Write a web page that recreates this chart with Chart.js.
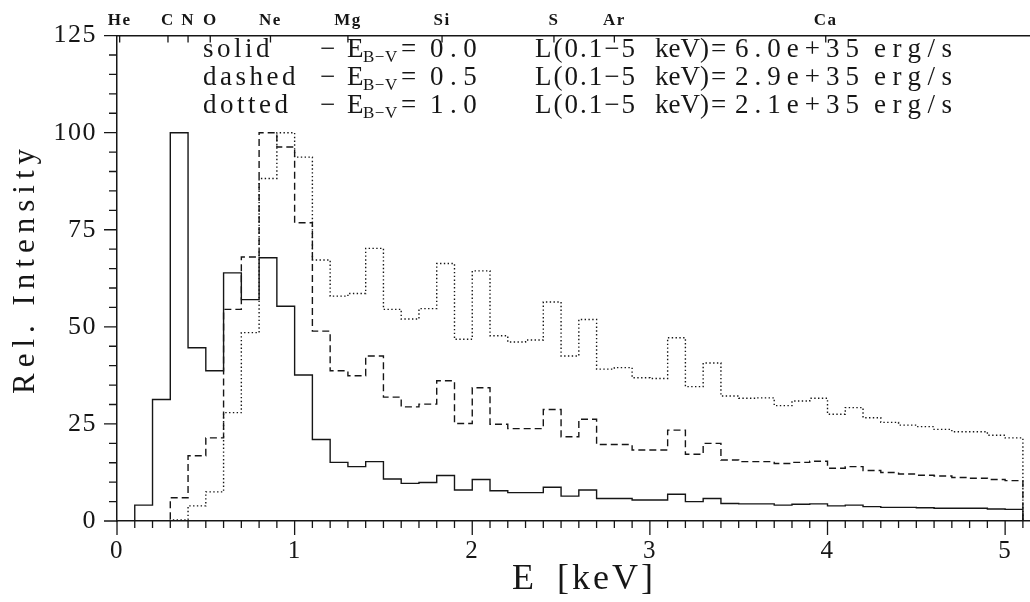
<!DOCTYPE html>
<html>
<head>
<meta charset="utf-8">
<title>Rel. Intensity vs E</title>
<script src="https://cdn.jsdelivr.net/npm/chart.js@4.4.1/dist/chart.umd.min.js"></script>
<style>
  html, body { margin: 0; padding: 0; background: #fff; }
  #wrap { position: relative; width: 1030px; height: 602px; }
</style>
</head>
<body>
<div id="wrap"><canvas id="spectrum"></canvas></div>
<script>
'use strict';

// ── Data ──────────────────────────────────────────────────────────────────────
// One value per 0.1 keV bin, first bin starts at 0.0 keV.

const FIRST_BIN_KEV = 0.0;
const BIN_WIDTH_KEV = 0.1;

const solid = [
  0, 4.1, 31.3, 100, 44.6, 38.7, 63.9, 57.0, 67.8, 55.3,
  37.6, 21.0, 15.1, 14.0, 15.3, 10.8, 9.7, 9.9, 11.7, 8.0,
  10.7, 7.8, 7.3, 7.3, 8.7, 6.4, 8.0, 5.8, 5.8, 5.4,
  5.4, 6.9, 5.0, 5.8, 4.5, 4.4, 4.4, 4.1, 4.3, 4.4,
  3.9, 4.1, 3.7, 3.5, 3.5, 3.4, 3.3, 3.3, 3.3, 3.1,
  3.0,
];

const dashed = [
  0, 0, 0, 6.0, 16.8, 21.4, 54.5, 68.0, 100, 96.3,
  76.8, 48.9, 38.7, 37.4, 42.5, 31.9, 29.4, 30.1, 36.1, 25.1,
  34.3, 24.9, 23.8, 23.8, 28.7, 21.7, 26.2, 19.7, 19.7, 18.3,
  18.3, 23.4, 17.2, 20.0, 15.7, 15.3, 15.3, 14.8, 15.1, 15.4,
  13.6, 14.0, 13.0, 12.5, 12.1, 11.8, 11.6, 11.2, 11.0, 10.7,
  10.4,
];

const dotted = [
  0, 0, 0, 0.3, 3.9, 7.5, 27.9, 48.5, 88.2, 100,
  93.7, 67.2, 57.9, 58.6, 70.2, 54.5, 52.0, 54.7, 66.3, 46.8,
  64.4, 47.7, 46.1, 46.6, 56.4, 42.5, 51.9, 39.1, 39.5, 36.9,
  36.7, 47.2, 34.6, 40.7, 32.2, 31.6, 31.7, 29.7, 30.9, 31.6,
  27.5, 29.2, 26.6, 25.4, 24.7, 24.3, 23.6, 23.0, 23.0, 22.1,
  21.4,
];

const xTicks = [0, 1, 2, 3, 4, 5];
const yTicks = [0, 25, 50, 75, 100, 125];

const elementNames = ['He', 'C', 'N', 'O', 'Ne', 'Mg', 'Si', 'S', 'Ar', 'Ca'];
const elementKev   = [0.015, 0.287, 0.40, 0.525, 0.864, 1.30, 1.83, 2.46, 2.80, 3.99];

const legendRows = [
  { style: 'solid',  ebv: '0.0', lum: '6.0e+35' },
  { style: 'dashed', ebv: '0.5', lum: '2.9e+35' },
  { style: 'dotted', ebv: '1.0', lum: '2.1e+35' },
];

// ── Look ──────────────────────────────────────────────────────────────────────

const INK = '#161616';
const SERIF = '"Liberation Serif", "DejaVu Serif", serif';
const X_MAX = 5.14;

function histogramPoints(values) {
  const pts = values.map((v, i) => ({ x: +(FIRST_BIN_KEV + i * BIN_WIDTH_KEV).toFixed(2), y: v }));
  pts.push({ x: +(FIRST_BIN_KEV + values.length * BIN_WIDTH_KEV).toFixed(2), y: 0 });
  return pts;
}

function histDataset(values, dash) {
  return {
    data: histogramPoints(values),
    borderColor: INK,
    borderWidth: 1.4,
    borderDash: dash,
    borderCapStyle: 'butt',
    stepped: 'before',
    pointRadius: 0,
    fill: false,
  };
}

function spacedText(ctx, text, x, y, spacing) {
  ctx.letterSpacing = `${spacing}px`;
  ctx.fillText(text, x, y);
}

// ── Ticks, titles and the key text ────────────────────────────────────────────

const decor = {
  id: 'decor',
  beforeDraw(chart) {
    chart.ctx.letterSpacing = '1.5px';
  },
  afterDraw(chart) {
    const { ctx, chartArea: a, scales } = chart;
    ctx.save();
    ctx.strokeStyle = INK;
    ctx.fillStyle = INK;
    ctx.lineWidth = 1.3;

    ctx.beginPath();
    const nBottom = Math.round(5.1 / BIN_WIDTH_KEV);
    for (let i = 0; i <= nBottom; i++) {
      const x = scales.x.getPixelForValue(i * BIN_WIDTH_KEV);
      ctx.moveTo(x, a.bottom);
      ctx.lineTo(x, a.bottom + (i % 10 === 0 ? 14 : 7));
    }
    for (let v = 0; v <= 125; v += 5) {
      const y = scales.y.getPixelForValue(v);
      ctx.moveTo(a.left, y);
      ctx.lineTo(a.left - (v % 25 === 0 ? 13 : 8), y);
    }
    for (const e of elementKev) {
      const x = scales.top.getPixelForValue(e);
      ctx.moveTo(x, a.top);
      ctx.lineTo(x, a.top + 7);
    }
    ctx.stroke();

    // axis titles
    ctx.textBaseline = 'alphabetic';
    ctx.textAlign = 'left';
    ctx.font = `36px ${SERIF}`;
    spacedText(ctx, 'E', 512, 589, 3);
    spacedText(ctx, '[keV]', 557, 589, 3);

    ctx.save();
    ctx.translate(34, 394);
    ctx.rotate(-Math.PI / 2);
    ctx.font = `31px ${SERIF}`;
    spacedText(ctx, 'Rel. Intensity', 0, 0, 6);
    ctx.restore();

    // key
    legendRows.forEach((row, i) => {
      const y = 57 + i * 28;
      ctx.font = `27px ${SERIF}`;
      spacedText(ctx, row.style, 203, y, 3.5);
      spacedText(ctx, '\u2212', 320, y, 0);
      spacedText(ctx, 'E', 347, y, 0);
      spacedText(ctx, '=', 401, y, 0);
      spacedText(ctx, row.ebv, 430, y, 6.5);
      spacedText(ctx, 'L(0.1\u22125', 535, y, 2);
      spacedText(ctx, 'keV)', 655, y, 0);
      spacedText(ctx, '=', 711, y, 0);
      spacedText(ctx, row.lum, 735, y, 6);
      spacedText(ctx, 'erg/s', 874, y, 6.5);
      ctx.font = `17px ${SERIF}`;
      spacedText(ctx, 'B\u2212V', 363, y + 5, 0.5);
    });

    ctx.restore();
  },
};

// ── Chart ─────────────────────────────────────────────────────────────────────

new Chart(document.getElementById('spectrum'), {
  type: 'line',
  data: {
    datasets: [
      histDataset(solid, []),
      histDataset(dashed, [7, 4]),
      histDataset(dotted, [1.4, 2.4]),
    ],
  },
  options: {
    responsive: true,
    maintainAspectRatio: false,
    animation: false,
    layout: { padding: 0 },
    plugins: { legend: { display: false }, tooltip: { enabled: false } },
    scales: {
      x: {
        type: 'linear',
        position: 'bottom',
        min: 0,
        max: X_MAX,
        afterBuildTicks: s => { s.ticks = xTicks.map(v => ({ value: v })); },
        afterFit: s => { s.height = 81; },
        grid: { display: false, drawTicks: false },
        border: { display: true, color: INK, width: 1.5 },
        ticks: {
          color: INK,
          font: { family: SERIF, size: 25 },
          padding: 15,
          maxRotation: 0,
          autoSkip: false,
          callback: v => String(v),
        },
      },
      top: {
        type: 'linear',
        position: 'top',
        display: true,
        min: 0,
        max: X_MAX,
        afterBuildTicks: s => { s.ticks = elementKev.map(v => ({ value: v })); },
        afterFit: s => { s.height = 35; },
        grid: { display: false, drawTicks: false },
        border: { display: true, color: INK, width: 1.5 },
        ticks: {
          color: INK,
          font: { family: SERIF, size: 17, weight: 'bold' },
          padding: 5,
          maxRotation: 0,
          autoSkip: false,
          callback: (v, i) => elementNames[i],
        },
      },
      y: {
        type: 'linear',
        position: 'left',
        min: 0,
        max: 125,
        afterBuildTicks: s => { s.ticks = yTicks.map(v => ({ value: v })); },
        afterFit: s => { s.width = 117; },
        grid: { display: false, drawTicks: false },
        border: { display: true, color: INK, width: 1.5 },
        ticks: {
          color: INK,
          font: { family: SERIF, size: 26 },
          padding: 20,
          callback: v => String(v),
        },
      },
    },
  },
  plugins: [decor],
});
</script>
</body>
</html>
